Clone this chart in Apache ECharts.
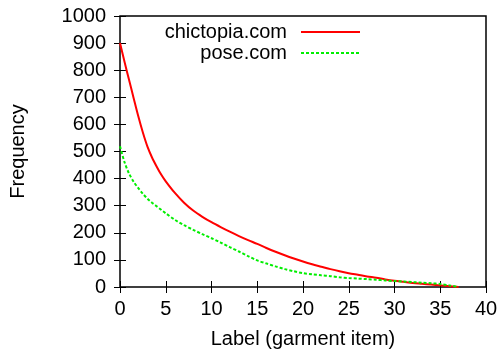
<!DOCTYPE html>
<html>
<head>
<meta charset="utf-8">
<script src="https://cdn.jsdelivr.net/npm/echarts@6/dist/echarts.min.js"></script>
<style>
html, body { margin: 0; padding: 0; background: #fff; }
#main { width: 503px; height: 354px; }
</style>
</head>
<body>
<div id="main"></div>
<script>
// label index (garment item), read at half steps where the curves bend
var labels = [0, 0.5, 1, 1.5, 2, 2.5, 3, 3.5, 4, 4.5, 5, 6, 7, 8, 9, 10, 11, 12, 13, 14, 15, 16, 17, 18, 19,
              20, 21, 22, 23, 24, 25, 26, 27, 28, 29, 30, 31, 32, 33, 34, 35, 36, 37];
// frequency per label
var chictopia = [900, 830, 763, 696, 630, 570, 518, 478, 445, 415, 390, 347, 311, 282, 259, 239, 221, 204, 188, 173, 159, 144, 130, 117, 105,
                 94, 84, 75, 66, 58, 51, 45, 39, 34, 28, 23, 19, 15, 12, 9, 6, 3, 0];
var pose = [519, 460, 418, 388, 365, 344, 326, 311, 298, 285, 272, 248, 228, 211, 195, 180, 164, 147, 131, 114, 98, 87, 76, 66, 58,
            51, 47, 43, 40, 36, 33, 31, 29, 27, 24, 22, 20, 18, 16, 14, 11, 6, 0];
var seriesNames = ['chictopia.com', 'pose.com'];

function pairs(vals) {
    return labels.map(function (x, i) { return [x, vals[i]]; });
}

var font = 'Liberation Sans, Arial, sans-serif';
var myChart = echarts.init(document.getElementById('main'));

function legendFor(name, top) {
    return {
        data: [name],
        align: 'right',
        right: 137, top: top,
        itemWidth: 59, itemHeight: 14,
        itemStyle: { opacity: 0 },
        textStyle: { fontSize: 20, color: '#000', fontFamily: font, padding: [0, 9, 0, 0] }
    };
}

var option = {
    backgroundColor: '#fff',
    animation: false,
    textStyle: { fontFamily: font },
    grid: {
        left: 118, right: 17, top: 16, bottom: 66,
        show: true, borderColor: '#000', borderWidth: 1.5, backgroundColor: 'transparent'
    },
    legend: [legendFor(seriesNames[0], 17), legendFor(seriesNames[1], 38)],
    xAxis: [{
        type: 'value', min: 0, max: 40, interval: 5,
        name: 'Label (garment item)', nameLocation: 'middle', nameGap: 42,
        nameTextStyle: { fontSize: 20, color: '#000', fontFamily: font },
        axisLine: { show: false },
        axisTick: { inside: true, length: 6, lineStyle: { color: '#000' } },
        axisLabel: { fontSize: 20, color: '#000', margin: 12, fontFamily: font },
        splitLine: { show: false }
    }, {
        type: 'value', min: 0, max: 40, interval: 5, position: 'top',
        axisLine: { show: false },
        axisTick: { inside: true, length: 6, lineStyle: { color: '#000' } },
        axisLabel: { show: false },
        splitLine: { show: false }
    }],
    yAxis: [{
        type: 'value', min: 0, max: 1000, interval: 100,
        name: 'Frequency', nameLocation: 'middle', nameGap: 92, nameRotate: 90,
        nameTextStyle: { fontSize: 20, color: '#000', fontFamily: font },
        axisLine: { show: false },
        axisTick: { show: true, inside: true, length: 6, lineStyle: { color: '#000' } },
        axisLabel: { fontSize: 20, color: '#000', margin: 14, fontFamily: font,
                     formatter: function (v) { return String(v); } },
        splitLine: { show: false }
    }, {
        type: 'value', min: 0, max: 1000, interval: 100, position: 'right',
        axisLine: { show: false },
        axisTick: { show: true, inside: true, length: 6, lineStyle: { color: '#000' } },
        axisLabel: { show: false },
        splitLine: { show: false }
    }],
    series: [{
        name: seriesNames[0],
        type: 'line',
        data: pairs(chictopia),
        smooth: 0.3,
        symbol: 'none',
        color: '#ff0000',
        lineStyle: { width: 2, color: '#ff0000' }
    }, {
        name: seriesNames[1],
        type: 'line',
        data: pairs(pose),
        smooth: 0.3,
        symbol: 'none',
        color: '#00ee00',
        lineStyle: { width: 2, color: '#00ee00', type: [3, 2] }
    }]
};
myChart.setOption(option);
</script>
</body>
</html>
